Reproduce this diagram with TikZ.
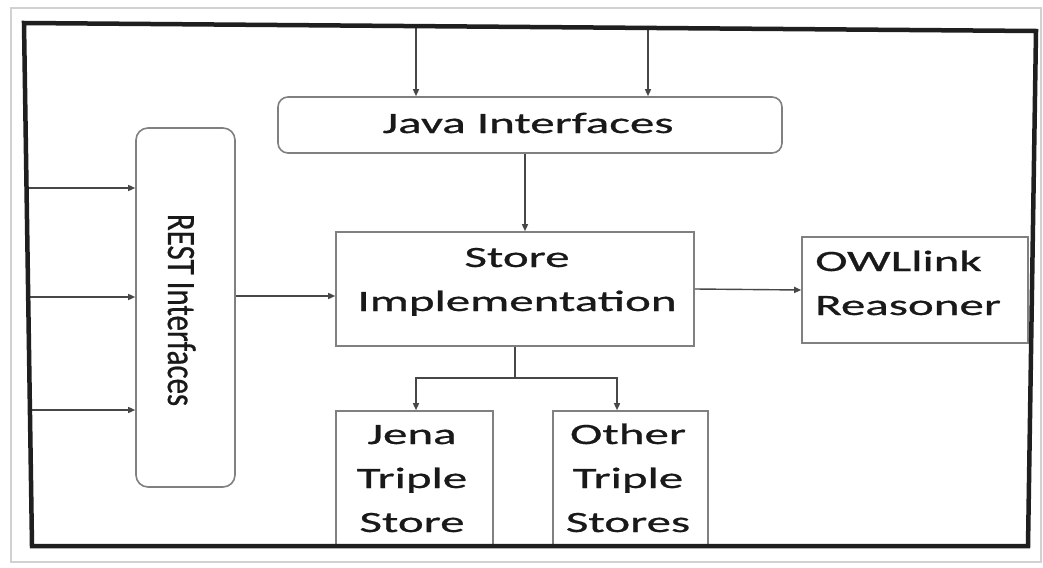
\documentclass[tikz,border=0pt]{standalone}
\usepackage{fontspec}
\setmainfont{Carlito}[FakeBold=0.6]
\usepackage{graphicx}
\usetikzlibrary{arrows.meta,calc}
\newcommand{\wx}[1]{\scalebox{1.66}[1]{#1}}
\begin{document}
\begin{tikzpicture}[x=1pt,y=-1pt,
  box/.style={draw=black!50, line width=1.6pt, fill=white, inner sep=0pt},
  rbox/.style={box, rounded corners=10pt},
  txt/.style={font=\fontsize{29.5}{44}\selectfont, text=black!90, inner sep=0pt, align=center},
  conn/.style={draw=black!72, line width=1.4pt},
  arr/.style={conn, -{Triangle[length=7pt,width=6pt]}}]
\useasboundingbox (0,0) rectangle (1043,567);
\fill[white] (0,0) rectangle (1043,567);
\draw[black!18, line width=1.2pt] (11,8) rectangle (1041,562);
% boxes
\node[rbox, minimum width=504pt, minimum height=56pt] (java) at (530,125) {};
\node[box, rounded corners=12pt, minimum width=99pt, minimum height=359pt] (rest) at (185.5,307.5) {};
\node[box, minimum width=358pt, minimum height=114pt] (store) at (515,289) {};
\node[box, minimum width=226pt, minimum height=106pt] (owl) at (915,290) {};
\node[box, minimum width=157pt, minimum height=135pt] (jena) at (414.5,478.5) {};
\node[box, minimum width=155pt, minimum height=135pt] (other) at (630.5,478.5) {};
% texts (anchor=base is the baseline of the last line)
\node[txt, anchor=base] (javat) at (528,133) {\wx{Java Interfaces}};
\node[txt, anchor=base] (storet) at (517,311) {\wx{Store}\\\wx{Implementation}};
\node[txt, align=left, anchor=base west] (owlt) at (815,315) {\wx{OWLlink}\\\wx{Reasoner}};
\node[txt, anchor=base] (jenat) at (412,532) {\wx{Jena}\\\wx{Triple}\\\wx{Store}};
\node[txt, anchor=base] (othert) at (628,532) {\wx{Other}\\\wx{Triple}\\\wx{Stores}};
\node[font=\fontsize{31}{37}\selectfont, text=black!90, rotate=-90, anchor=base, inner sep=0pt] (restt) at (168,310) {\scalebox{1}[1.3]{REST Interfaces}};
% connectors
\coordinate (t1) at (416,25);
\coordinate (t2) at (648,28);
\draw[arr] (t1) -- (t1 |- java.north);
\draw[arr] (t2) -- (t2 |- java.north);
\coordinate (a) at (525,0);
\draw[arr] (java.south -| a) -- (store.north -| a);
\coordinate (l1) at (27,188);
\coordinate (l2) at (28,297);
\coordinate (l3) at (30,410);
\draw[arr] (l1) -- (rest.west |- l1);
\draw[arr] (l2) -- (rest.west |- l2);
\draw[arr] (l3) -- (rest.west |- l3);
\coordinate (m) at (0,296);
\draw[arr] (rest.east |- m) -- (store.west |- m);
\draw[arr] (store.east) -- (owl.west);
\draw[arr] (store.south) -- ++(0,31) -| ([xshift=1.5pt]jena.north);
\draw[arr] (store.south) -- ++(0,31) -| ([xshift=-13.5pt]other.north);
% outer frame
\draw[black!88, line width=4.5pt, line join=miter] (24,23) -- (1036,31) -- (1028,546) -- (32,546) -- cycle;
\end{tikzpicture}
\end{document}
